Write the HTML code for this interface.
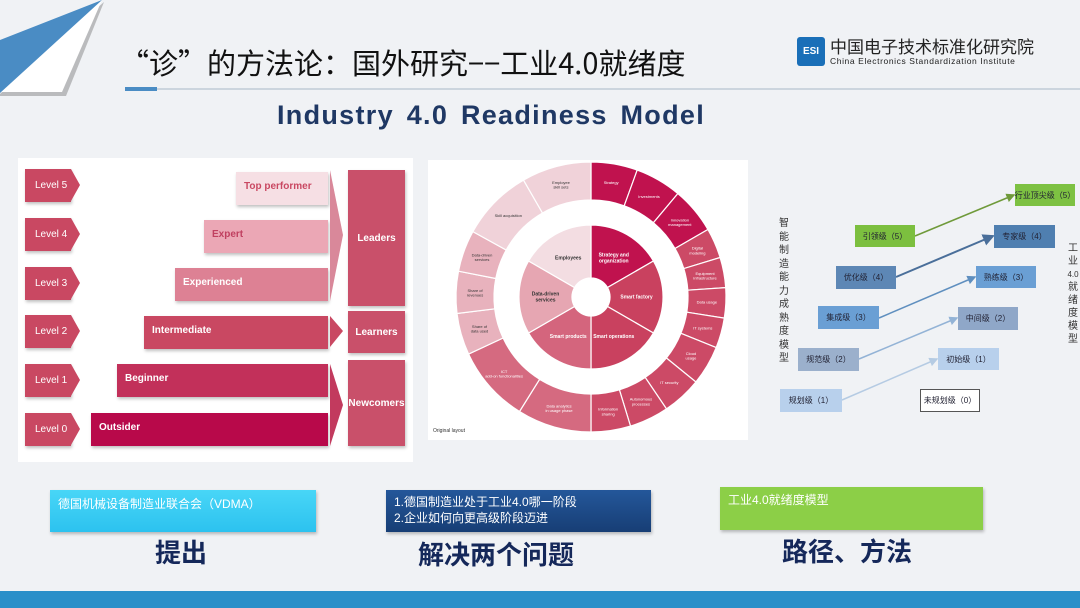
<!DOCTYPE html>
<html><head><meta charset="utf-8"><style>
body{margin:0;width:1080px;height:608px;overflow:hidden;background:#f0f2f5;font-family:"Liberation Sans","Noto Sans CJK SC",sans-serif;position:relative}
.a{position:absolute}
.lv{position:absolute;left:25px;width:46px;height:33px;background:#c94862;color:#fff;font-size:10px;line-height:33px;padding-left:10px;box-sizing:border-box;box-shadow:1px 2px 3px rgba(0,0,0,.25)}
.lv:after{content:"";position:absolute;right:-9px;top:0;border-left:9px solid #c94862;border-top:16.5px solid transparent;border-bottom:16.5px solid transparent}
.bar{position:absolute;right:calc(1080px - 328px);height:33px;font-size:10px;font-weight:bold;line-height:30px;padding-left:8px;box-sizing:border-box;color:#fff;box-shadow:1px 2px 3px rgba(0,0,0,.25)}
.rb{position:absolute;left:348px;width:57px;background:#c9506a;color:#fff;font-size:10px;font-weight:bold;display:flex;align-items:center;justify-content:center;box-shadow:1px 2px 3px rgba(0,0,0,.25)}
.bx{position:absolute;font-size:8px;white-space:nowrap;display:flex;align-items:center;justify-content:center;color:#223}
.big{position:absolute;font-size:26px;font-weight:bold;color:#15285a;font-family:"Liberation Sans","Noto Sans CJK SC",sans-serif}
</style></head><body>
<svg class="a" style="left:0;top:0" width="120" height="110">
<polygon points="104,2 66,96 0,96 0,94" fill="#555" opacity=".35"/>
<polygon points="102,0 62,92 0,92" fill="#fff"/>
<polygon points="0,40 102,0 0,93" fill="#4a8cc4"/>
</svg>
<div class="a" style="left:120px;top:42px;font-size:29px;color:#111;white-space:nowrap;font-family:'Noto Sans CJK SC',sans-serif;line-height:40px">“诊”的方法论：国外研究−−工业4.0就绪度</div>
<div class="a" style="left:125px;top:88px;width:955px;height:2px;background:#ccd5de"></div>
<div class="a" style="left:125px;top:87px;width:32px;height:4px;background:#4a8cc4"></div>
<div class="a" style="left:797px;top:37px;width:28px;height:29px;background:#1a6fb8;border-radius:3px;color:#fff;font-size:10px;font-weight:bold;text-align:center;line-height:29px">ESI</div>
<div class="a" style="left:830px;top:35px;font-size:17px;color:#222;font-family:'Noto Sans CJK SC',sans-serif;white-space:nowrap;line-height:22px">中国电子技术标准化研究院</div>
<div class="a" style="left:830px;top:56px;font-size:8.5px;color:#222;white-space:nowrap;letter-spacing:.6px">China Electronics Standardization Institute</div>
<div class="a" style="left:277px;top:100px;font-size:27px;font-weight:bold;color:#1f3864;white-space:nowrap;letter-spacing:1.3px;word-spacing:4px">Industry 4.0 Readiness Model</div>

<div class="a" style="left:18px;top:158px;width:395px;height:304px;background:#fff"></div>
<div class="lv" style="top:169px">Level 5</div>
<div class="lv" style="top:218px">Level 4</div>
<div class="lv" style="top:267px">Level 3</div>
<div class="lv" style="top:315px">Level 2</div>
<div class="lv" style="top:364px">Level 1</div>
<div class="lv" style="top:413px">Level 0</div>
<div class="bar" style="left:236px;top:172px;background:#f6dfe4;color:#c94862">Top performer</div>
<div class="bar" style="left:204px;top:220px;background:#eba7b5;color:#c04060">Expert</div>
<div class="bar" style="left:175px;top:268px;background:#dd8194">Experienced</div>
<div class="bar" style="left:144px;top:316px;background:#c94862">Intermediate</div>
<div class="bar" style="left:117px;top:364px;background:#c2305a">Beginner</div>
<div class="bar" style="left:91px;top:413px;background:#b8094a">Outsider</div>
<svg class="a" style="left:328px;top:165px" width="20" height="290">
<polygon points="2,5 15,70 2,136" fill="#d9889a"/>
<polygon points="2,151 15,166 2,182" fill="#c94862"/>
<polygon points="2,199 15,240 2,281" fill="#c23a5e"/>
</svg>
<div class="rb" style="top:170px;height:136px">Leaders</div>
<div class="rb" style="top:311px;height:42px">Learners</div>
<div class="rb" style="top:360px;height:86px">Newcomers</div>

<div class="a" style="left:428px;top:160px;width:320px;height:280px;background:#fff"></div>
<svg id="dn" class="a" style="left:428px;top:160px" width="320" height="280"></svg>
<div class="a" style="left:433px;top:428px;font-size:5px;color:#333">Original layout</div>

<svg class="a" style="left:760px;top:170px" width="320" height="260">
<defs><marker id="ar" markerWidth="6" markerHeight="6" refX="5" refY="3" orient="auto"><path d="M0,0L6,3L0,6z" fill="context-stroke"/></marker></defs>
<line x1="155" y1="66" x2="254" y2="25" stroke="#6f9a3a" stroke-width="1.5" marker-end="url(#ar)"/>
<line x1="136" y1="107" x2="233" y2="66" stroke="#4a6f9a" stroke-width="2" marker-end="url(#ar)"/>
<line x1="119" y1="148" x2="215" y2="107" stroke="#5f8fbf" stroke-width="1.5" marker-end="url(#ar)"/>
<line x1="99" y1="189" x2="197" y2="148" stroke="#93b3d6" stroke-width="1.5" marker-end="url(#ar)"/>
<line x1="82" y1="230" x2="177" y2="189" stroke="#b5cbe3" stroke-width="1.5" marker-end="url(#ar)"/>
</svg>
<div class="bx" style="left:1015px;top:184px;width:60px;height:22px;background:#7dc142">行业顶尖级（5）</div>
<div class="bx" style="left:855px;top:225px;width:60px;height:22px;background:#7cbf3f">引领级（5）</div>
<div class="bx" style="left:994px;top:225px;width:61px;height:23px;background:#4f7fb0">专家级（4）</div>
<div class="bx" style="left:836px;top:266px;width:60px;height:23px;background:#5d87b5">优化级（4）</div>
<div class="bx" style="left:976px;top:266px;width:60px;height:22px;background:#6a9fd4">熟练级（3）</div>
<div class="bx" style="left:818px;top:306px;width:61px;height:23px;background:#6a9fd4">集成级（3）</div>
<div class="bx" style="left:958px;top:307px;width:60px;height:23px;background:#8fa7c8">中间级（2）</div>
<div class="bx" style="left:798px;top:348px;width:61px;height:23px;background:#9bb0cc">规范级（2）</div>
<div class="bx" style="left:938px;top:348px;width:61px;height:22px;background:#b8d0ec">初始级（1）</div>
<div class="bx" style="left:780px;top:389px;width:62px;height:23px;background:#b8d0ec">规划级（1）</div>
<div class="bx" style="left:920px;top:389px;width:58px;height:21px;background:#fff;border:1px solid #555">未规划级（0）</div>
<div class="a" style="left:778px;top:217px;width:12px;font-size:10px;line-height:13.5px;color:#333;text-align:center">智能制造能力成熟度模型</div>
<div class="a" style="left:1066px;top:242px;width:14px;font-size:10px;line-height:13px;color:#333;text-align:center">工业<br><span style="font-size:8px">4.0</span><br>就绪度模型</div>

<div class="a" style="left:50px;top:490px;width:266px;height:42px;background:linear-gradient(#48d6f7,#2cc2ef);box-shadow:1px 2px 3px rgba(0,0,0,.25);color:#fff;font-size:12px;padding:5px 8px;box-sizing:border-box">德国机械设备制造业联合会（VDMA）</div>
<div class="a" style="left:386px;top:490px;width:265px;height:42px;background:linear-gradient(#24579a,#173e75);box-shadow:1px 2px 3px rgba(0,0,0,.25);color:#fff;font-size:12px;padding:4px 8px;box-sizing:border-box;line-height:16px">1.德国制造业处于工业4.0哪一阶段<br>2.企业如何向更高级阶段迈进</div>
<div class="a" style="left:720px;top:487px;width:263px;height:43px;background:#8ccf47;box-shadow:1px 2px 3px rgba(0,0,0,.25);color:#fff;font-size:12px;padding:4px 8px;box-sizing:border-box">工业4.0就绪度模型</div>
<div class="big" style="left:155px;top:533px">提出</div>
<div class="big" style="left:418px;top:535px">解决两个问题</div>
<div class="big" style="left:782px;top:532px">路径、方法</div>
<div class="a" style="left:0;top:591px;width:1080px;height:17px;background:#2a8fc9"></div>

<script>
(function(){
var s=document.getElementById('dn'),cx=163,cy=137,NS='http://www.w3.org/2000/svg';
function p(a0,a1,r0,r1){function pt(a,r){var t=(a-90)*Math.PI/180;return (cx+r*Math.cos(t)).toFixed(1)+','+(cy+r*Math.sin(t)).toFixed(1)}
var l=(a1-a0)>180?1:0;return 'M'+pt(a0,r1)+'A'+r1+','+r1+' 0 '+l+' 1 '+pt(a1,r1)+'L'+pt(a1,r0)+'A'+r0+','+r0+' 0 '+l+' 0 '+pt(a0,r0)+'Z'}
function add(a0,a1,r0,r1,c,t,fs,col,bold){var e=document.createElementNS(NS,'path');e.setAttribute('d',p(a0,a1,r0,r1));e.setAttribute('fill',c);e.setAttribute('stroke','#fff');e.setAttribute('stroke-width','1.2');s.appendChild(e);
if(t){var m=(a0+a1)/2,rr=(r0+r1)/2,tt=(m-90)*Math.PI/180;var lines=t.split('|');lines.forEach(function(L,i){var x=document.createElementNS(NS,'text');x.setAttribute('x',cx+rr*Math.cos(tt));x.setAttribute('y',cy+rr*Math.sin(tt)+(i-(lines.length-1)/2)*fs*1.2+fs/3);x.setAttribute('font-size',fs);x.setAttribute('fill',col);x.setAttribute('text-anchor','middle');x.setAttribute('font-family','Liberation Sans,sans-serif');if(bold)x.setAttribute('font-weight','bold');x.textContent=L;s.appendChild(x);});}}
var inner=[[0,60,'#c0124e','Strategy and|organization','#fff'],[60,120,'#c9415f','Smart factory','#fff'],[120,180,'#c9415f','Smart operations','#fff'],[180,240,'#d4657d','Smart products','#fff'],[240,300,'#e6a6b2','Data-driven|services','#333'],[300,360,'#f3dde2','Employees','#333']];
inner.forEach(function(d){add(d[0],d[1],19,72,d[2],d[3],5,d[4],true)});
var outer=[[0,20,'#c0124e','Strategy','#fff'],[20,40,'#c0124e','Investments','#fff'],[40,60,'#c0124e','Innovation|management','#fff'],
[60,73,'#cc4a66','Digital|modeling','#fff'],[73,86,'#cc4a66','Equipment|infrastructure','#fff'],[86,99,'#cc4a66','Data usage','#fff'],[99,112,'#cc4a66','IT systems','#fff'],
[112,129,'#cc4a66','Cloud|usage','#fff'],[129,146,'#cc4a66','IT security','#fff'],[146,163,'#cc4a66','Autonomous|processes','#fff'],[163,180,'#cc4a66','Information|sharing','#fff'],
[180,212,'#d56a80','Data analytics|in usage phase','#fff'],[212,245,'#d56a80','ICT|add-on functionalities','#fff'],
[245,263,'#e8b2bd','Share of|data used','#333'],[263,281,'#e8b2bd','Share of|revenues','#333'],[281,299,'#e8b2bd','Data-driven|services','#333'],
[299,330,'#f0d2d9','Skill acquisition','#333'],[330,360,'#f0d2d9','Employee|skill sets','#333']];
outer.forEach(function(d){add(d[0],d[1],97,135,d[2],d[3],4,d[4],false)});
})();
</script>
</body></html>
